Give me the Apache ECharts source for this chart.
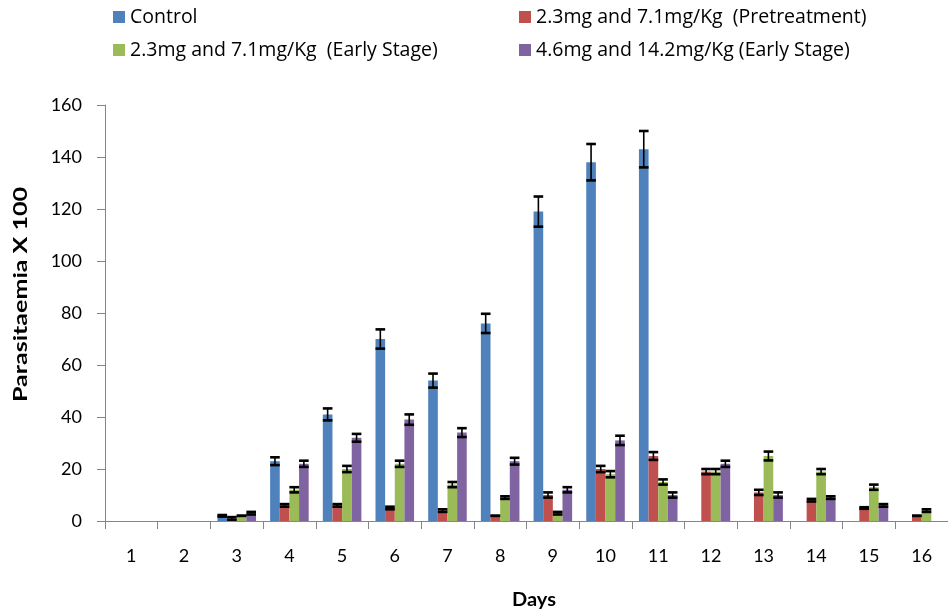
<!DOCTYPE html>
<html><head><meta charset="utf-8">
<script src="https://cdn.jsdelivr.net/npm/echarts@6/dist/echarts.min.js"></script>
<style>html,body{margin:0;padding:0;background:#fff}#c{width:948px;height:613px}</style>
</head><body><div id="c"></div>
<script>
const days = ['1','2','3','4','5','6','7','8','9','10','11','12','13','14','15','16'];
const seriesNames = ['Control','2.3mg and 7.1mg/Kg  (Pretreatment)','2.3mg and 7.1mg/Kg  (Early Stage)','4.6mg and 14.2mg/Kg (Early Stage)'];
const control      = [null,null,2,23,41,70,54,76,119,138,143,null,null,null,null,null];
const controlErr   = [null,null,0.3,1.5,2.3,3.7,2.7,3.7,5.8,7,7,null,null,null,null,null];
const pretreat     = [null,null,1,6,6,5,4,2,10,20,25,19,11,8,5,2];
const pretreatErr  = [null,null,0.5,0.5,0.5,0.5,0.5,0,1,1.2,1.5,1,1,0.5,0.3,0];
const early23      = [null,null,2,12,20,22,14,9,3,18,15,19,25,19,13,4];
const early23Err   = [null,null,0,1,1.2,1.2,1,0.5,0.5,1.2,1,1,1.7,1,1,0.5];
const early46      = [null,null,3,22,32,39,34,23,12,31,10,22,10,9,6,null];
const early46Err   = [null,null,0.5,1.2,1.5,2,1.7,1.3,1,1.8,1,1.2,1,0.5,0.5,null];
const yTicks = {min:0, max:160, interval:20};

const FONT = 'Lato';
const LEGEND_FONT = 'Open Sans';
const colors = ['#4F81BD','#C0504D','#9BBB59','#8064A2'];
const valueSets = [control, pretreat, early23, early46];
const errSets = [controlErr, pretreatErr, early23Err, early46Err];
const BAR_FRAC = 0.183;

// text width measurement to stretch axis titles to the reference length
const mctx = document.createElement('canvas').getContext('2d');
function textW(t, font){ mctx.font = font; return mctx.measureText(t).width; }
const yTitle = 'Parasitaemia X 100', xTitle = 'Days';
const titleFont = 'bold 18px ' + FONT;
const yScale = 215 / textW(yTitle, titleFont);
const xScale = 44 / textW(xTitle, titleFont);

const series = [];
valueSets.forEach((vals, k) => {
  series.push({type:'bar', name: seriesNames[k], data: vals, barWidth: (BAR_FRAC*100)+'%', barGap:'0%',
    itemStyle:{color: colors[k]}, z:2});
});
valueSets.forEach((vals, k) => {
  const d = [];
  vals.forEach((v, i) => { if (v != null && errSets[k][i] != null) d.push([i, v, errSets[k][i]]); });
  series.push({type:'custom', data: d, encode:{x:0, y:1}, z:5, silent:true,
    renderItem: function(params, api){
      const i = api.value(0), v = api.value(1), e = api.value(2);
      const band = api.size([1,0])[0];
      const w = band*BAR_FRAC;
      const off = (k-1.5)*w;
      const top = api.coord([i, v+e]);
      const bot = api.coord([i, Math.max(0, v-e)]);
      const x = top[0] + off;
      const h = w/2;
      return {type:'group', children:[
        {type:'line', shape:{x1:x, y1:top[1], x2:x, y2:bot[1]}, style:{stroke:'#000', lineWidth:1.6}},
        {type:'line', shape:{x1:x-h, y1:top[1], x2:x+h, y2:top[1]}, style:{stroke:'#000', lineWidth:2.6}},
        {type:'line', shape:{x1:x-h, y1:bot[1], x2:x+h, y2:bot[1]}, style:{stroke:'#000', lineWidth:2.6}}
      ]};
    }});
});

function leg(name, left, top){
  return {data:[name], left:left, top:top, padding:0, itemWidth:12, itemHeight:12, icon:'rect',
    selectedMode:false, textStyle:{fontFamily:LEGEND_FONT, fontSize:19.5, color:'#000'}};
}

const chart = echarts.init(document.getElementById('c'), null, {renderer:'canvas'});
chart.setOption({
  animation:false,
  backgroundColor:'#fff',
  legend:[leg(seriesNames[0],113,7), leg(seriesNames[1],519,7), leg(seriesNames[2],113,40), leg(seriesNames[3],519,40)],
  grid:{left:105, top:105, width:858, height:416, containLabel:false},
  xAxis:{type:'category', data: days,
    axisLine:{lineStyle:{color:'#868686', width:1}},
    axisTick:{show:true, length:8, lineStyle:{color:'#868686'}},
    axisLabel:{fontFamily:FONT, fontSize:18, color:'#000', margin:26}},
  yAxis:{type:'value', min:yTicks.min, max:yTicks.max, interval:yTicks.interval,
    splitLine:{show:false},
    axisLine:{show:true, lineStyle:{color:'#868686', width:1}},
    axisTick:{show:true, length:8, lineStyle:{color:'#868686'}},
    axisLabel:{fontFamily:FONT, fontSize:18, color:'#000', margin:23}},
  graphic:[
    {type:'text', x:534, y:600, scaleX:xScale, style:{text:xTitle, fontFamily:FONT, fontSize:18, fontWeight:'bold', fill:'#000', align:'center', verticalAlign:'middle'}},
    {type:'text', x:21, y:294.5, rotation:Math.PI/2, scaleX:yScale, style:{text:yTitle, fontFamily:FONT, fontSize:18, fontWeight:'bold', fill:'#000', align:'center', verticalAlign:'middle'}}
  ],
  series: series
});
</script></body></html>
